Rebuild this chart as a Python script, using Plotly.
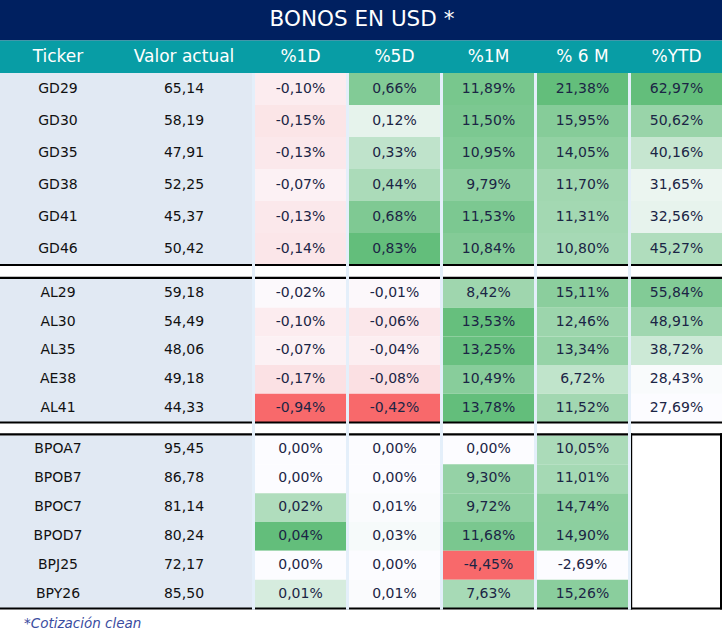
import plotly.graph_objects as go

# ---------------- data ----------------
title_text = "BONOS EN USD *"
footnote = "*Cotización clean"
col_labels = ["Ticker", "Valor actual", "%1D", "%5D", "%1M", "% 6 M", "%YTD"]

tickers = ["GD29", "GD30", "GD35", "GD38", "GD41", "GD46",
           "AL29", "AL30", "AL35", "AE38", "AL41",
           "BPOA7", "BPOB7", "BPOC7", "BPOD7", "BPJ25", "BPY26"]
valor_actual = [65.14, 58.19, 47.91, 52.25, 45.37, 50.42,
                59.18, 54.49, 48.06, 49.18, 44.33,
                95.45, 86.78, 81.14, 80.24, 72.17, 85.50]
pct_1d = [-0.10, -0.15, -0.13, -0.07, -0.13, -0.14,
          -0.02, -0.10, -0.07, -0.17, -0.94,
          0.00, 0.00, 0.02, 0.04, 0.00, 0.01]
pct_5d = [0.66, 0.12, 0.33, 0.44, 0.68, 0.83,
          -0.01, -0.06, -0.04, -0.08, -0.42,
          0.00, 0.00, 0.01, 0.03, 0.00, 0.01]
pct_1m = [11.89, 11.50, 10.95, 9.79, 11.53, 10.84,
          8.42, 13.53, 13.25, 10.49, 13.78,
          0.00, 9.30, 9.72, 11.68, -4.45, 7.63]
pct_6m = [21.38, 15.95, 14.05, 11.70, 11.31, 10.80,
          15.11, 12.46, 13.34, 6.72, 11.52,
          10.05, 11.01, 14.74, 14.90, -2.69, 15.26]
pct_ytd = [62.97, 50.62, 40.16, 31.65, 32.56, 45.27,
           55.84, 48.91, 38.72, 28.43, 27.69,
           None, None, None, None, None, None]
section_sizes = [6, 5, 6]

# ---------------- styles / geometry ----------------
W, H = 724, 639
FONT = "DejaVu Sans"
NAVY = "#002060"
TEAL = "#089DA5"
LEFT_BG = "#E1E9F3"
GAP_BG = "#E4EFFA"
RED = (248, 105, 107)
WHITE = (252, 252, 255)
GREEN = (99, 190, 123)
VAL_TXT = "#1B2545"

col_edges = [(0, 116), (116, 252), (255, 346), (349, 440), (443, 534), (537, 628), (631, 722)]
gaps = [(252, 255), (346, 349), (440, 443), (534, 537), (628, 631)]
title_band = (0, 40.5)
header_band = (40.5, 73)
sec_bounds = [(73, 265), (279, 422.5), (435.5, 608.5)]
line_w = 2.2


def mix(c1, c2, t):
    t = max(0.0, min(1.0, t))
    return "rgb(%d,%d,%d)" % tuple(round(a + (b - a) * t) for a, b in zip(c1, c2))


def color_3(v, vals):
    lo, hi = min(vals), max(vals)
    if v < 0:
        return mix(WHITE, RED, v / lo)
    if v > 0:
        return mix(WHITE, GREEN, v / hi)
    return "rgb(%d,%d,%d)" % WHITE


def color_2(v, vals):
    lo, hi = min(vals), max(vals)
    return mix(WHITE, GREEN, (v - lo) / (hi - lo))


value_cols = [(pct_1d, color_3), (pct_5d, color_3), (pct_1m, color_3),
              (pct_6m, color_2), (pct_ytd, color_2)]

# row geometry
row_tops, row_bots = [], []
for (top, bot), n in zip(sec_bounds, section_sizes):
    h = (bot - top) / n
    for i in range(n):
        row_tops.append(top + i * h)
        row_bots.append(top + (i + 1) * h)
row_mid = [(a + b) / 2 for a, b in zip(row_tops, row_bots)]

shapes = []


def rect(x0, x1, y0, y1, color):
    shapes.append(dict(type="rect", xref="x", yref="y", x0=x0, x1=x1, y0=y0, y1=y1,
                       fillcolor=color, line=dict(width=0), layer="below"))


rect(0, 722, title_band[0], title_band[1], NAVY)
rect(0, 722, header_band[0], header_band[1], TEAL)

# left area background per section
for top, bot in sec_bounds:
    rect(0, col_edges[1][1], top, bot, LEFT_BG)

# value cells
for ci, (vals, fn) in enumerate(value_cols):
    x0, x1 = col_edges[2 + ci]
    present = [v for v in vals if v is not None]
    for r, v in enumerate(vals):
        if v is None:
            continue
        rect(x0, x1, row_tops[r], row_bots[r], fn(v, present))

# black separator lines
for si, (top, bot) in enumerate(sec_bounds):
    if si > 0:
        rect(0, 722, top - line_w, top, "#000000")
    rect(0, 722, bot - line_w / 2, bot + line_w / 2, "#000000")

# empty YTD box in last section
top3, bot3 = sec_bounds[-1]
rect(col_edges[6][0] - 1, col_edges[6][0] + 1.2, top3 - line_w, bot3 + 1, "#000000")
rect(722 - 2, 722, top3 - line_w, bot3 + 1, "#000000")

# column gaps
for g0, g1 in gaps:
    rect(g0, g1, header_band[1], sec_bounds[-1][1] + 1.2, GAP_BG)

traces = []
centers = [(a + b) / 2 for a, b in col_edges]


def fmt_num(v):
    return ("%.2f" % v).replace(".", ",")


traces.append(go.Scatter(x=[362], y=[21], mode="text", text=[title_text],
                         textfont=dict(family=FONT, size=21.5, color="white")))
traces.append(go.Scatter(x=centers, y=[57.5] * len(centers), mode="text", text=col_labels,
                         textfont=dict(family=FONT, size=17, color="white")))
traces.append(go.Scatter(x=[centers[0]] * len(tickers), y=row_mid, mode="text", text=tickers,
                         textfont=dict(family=FONT, size=14, color="#111111")))
traces.append(go.Scatter(x=[centers[1]] * len(valor_actual), y=row_mid, mode="text",
                         text=[fmt_num(v) for v in valor_actual],
                         textfont=dict(family=FONT, size=14, color="#111111")))
for ci, (vals, fn) in enumerate(value_cols):
    ys = [row_mid[r] for r, v in enumerate(vals) if v is not None]
    ts = [fmt_num(v) + "%" for v in vals if v is not None]
    traces.append(go.Scatter(x=[centers[2 + ci]] * len(ys), y=ys, mode="text", text=ts,
                             textfont=dict(family=FONT, size=14, color=VAL_TXT)))
traces.append(go.Scatter(x=[24], y=[624.5], mode="text", text=[footnote], textposition="middle right",
                         textfont=dict(family=FONT, size=13.5, color="#3A4CA0", style="italic")))

fig = go.Figure(traces)
fig.update_layout(
    width=W, height=H, margin=dict(l=0, r=0, t=0, b=0),
    paper_bgcolor="white", plot_bgcolor="white", showlegend=False,
    shapes=shapes,
    xaxis=dict(range=[0, W], visible=False, fixedrange=True),
    yaxis=dict(range=[H, 0], visible=False, fixedrange=True),
    hovermode=False,
)
fig.write_html("out.html", config={"displayModeBar": False},
               post_script="document.body.style.margin='0';")
